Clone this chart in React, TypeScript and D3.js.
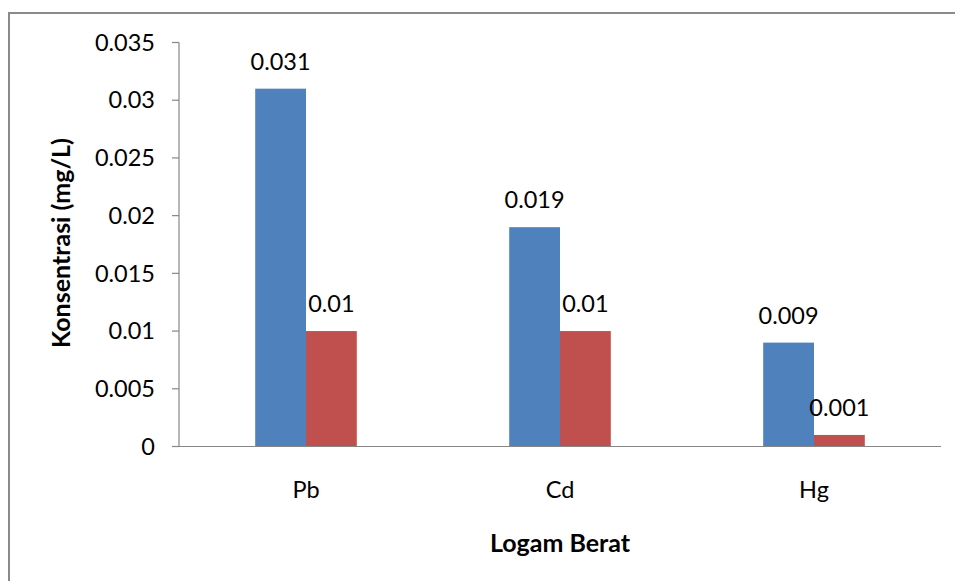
import React from "react";
import * as d3 from "d3";

const categories = ["Pb", "Cd", "Hg"];
const seriesA = [0.031, 0.019, 0.009];
const seriesB = [0.01, 0.01, 0.001];
const seriesColors = ["#4F81BD", "#C0504D"];
const yTicks = [0, 0.005, 0.01, 0.015, 0.02, 0.025, 0.03, 0.035];
const yTickLabels = ["0", "0.005", "0.01", "0.015", "0.02", "0.025", "0.03", "0.035"];
const valueLabelsA = ["0.031", "0.019", "0.009"];
const valueLabelsB = ["0.01", "0.01", "0.001"];

const W = 955;
const H = 581;
const FONT = "Lato, 'Open Sans', sans-serif";
const LABEL_SIZE = 23.5;
const TITLE_SIZE = 25;

export default function App() {
  const left = 179;
  const right = 941;
  const top = 42.5;
  const bottom = 446.5;

  const x = d3.scaleBand<string>().domain(categories).range([left, right]);
  const y = d3.scaleLinear().domain([0, 0.035]).range([bottom, top]);
  const bw = x.bandwidth() / 5;
  const series = [seriesA, seriesB];
  const labels = [valueLabelsA, valueLabelsB];

  return (
    <svg
      width={W}
      height={H}
      style={{ position: "absolute", left: 0, top: 0, background: "#fff" }}
      fontFamily={FONT}
    >
      <rect x={0} y={0} width={W} height={H} fill="#fff" />
      {/* chart frame */}
      <path d={`M9,${H + 2} V13 H${W + 2}`} fill="none" stroke="#8a8a8a" strokeWidth={2} />

      {/* y axis */}
      <line x1={left} x2={left} y1={top} y2={bottom} stroke="#868686" strokeWidth={1.2} />
      {yTicks.map((t, i) => (
        <g key={i}>
          <line x1={left - 7} x2={left} y1={y(t)} y2={y(t)} stroke="#868686" strokeWidth={1.2} />
          <text x={155} y={y(t)} dy="0.35em" textAnchor="end" fontSize={LABEL_SIZE} fill="#000">
            {yTickLabels[i]}
          </text>
        </g>
      ))}

      {/* bars */}
      {categories.map((c, ci) => {
        const cx = (x(c) as number) + x.bandwidth() / 2;
        return series.map((s, si) => {
          const bx = cx - bw + si * bw;
          return (
            <g key={`${c}-${si}`}>
              <rect
                x={bx}
                y={y(s[ci])}
                width={bw}
                height={bottom - y(s[ci])}
                fill={seriesColors[si]}
              />
              <text
                x={bx + bw / 2}
                y={y(s[ci]) - 27}
                dy="0.35em"
                textAnchor="middle"
                fontSize={LABEL_SIZE}
                fill="#000"
              >
                {labels[si][ci]}
              </text>
            </g>
          );
        });
      })}

      {/* x axis */}
      <line x1={left - 7} x2={right} y1={bottom} y2={bottom} stroke="#868686" strokeWidth={1.2} />
      {categories.map((c) => (
        <text
          key={c}
          x={(x(c) as number) + x.bandwidth() / 2}
          y={490}
          dy="0.35em"
          textAnchor="middle"
          fontSize={LABEL_SIZE}
          fill="#000"
        >
          {c}
        </text>
      ))}

      {/* axis titles */}
      <text x={560} y={543} dy="0.35em" textAnchor="middle" fontSize={TITLE_SIZE} fontWeight="bold" fill="#000">
        Logam Berat
      </text>
      <text
        transform={`translate(61,243) rotate(-90)`}
        dy="0.35em"
        textAnchor="middle"
        fontSize={TITLE_SIZE}
        fontWeight="bold"
        fill="#000"
      >
        Konsentrasi (mg/L)
      </text>
    </svg>
  );
}
